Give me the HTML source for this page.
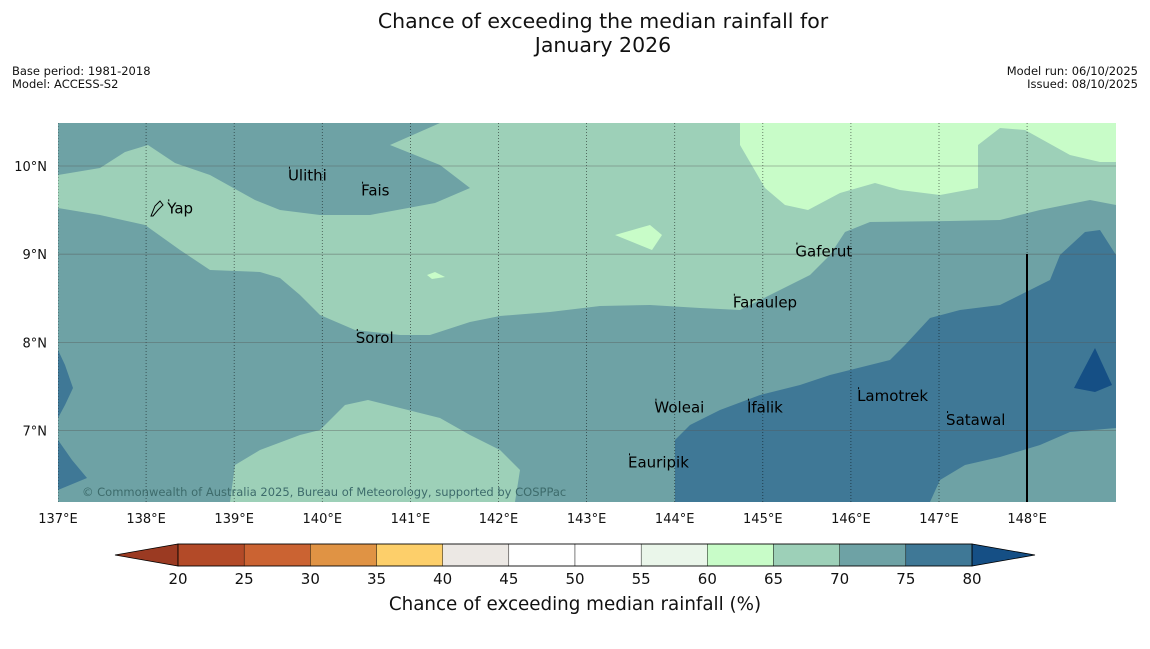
<!DOCTYPE html>
<html><head><meta charset="utf-8"><style>
body{margin:0;background:#fff;font-family:"Liberation Sans","DejaVu Sans",sans-serif;}
svg text{font-family:"DejaVu Sans","Liberation Sans",sans-serif;}
</style></head><body>
<svg width="1150" height="644" viewBox="0 0 1150 644" xmlns="http://www.w3.org/2000/svg">
<rect width="1150" height="644" fill="#fff"/>
<text x="603" y="28" text-anchor="middle" font-size="20.5" fill="#111">Chance of exceeding the median rainfall for</text>
<text x="603" y="52" text-anchor="middle" font-size="20.5" fill="#111">January 2026</text>
<text x="12" y="75" font-size="11.5" fill="#111">Base period: 1981-2018</text>
<text x="12" y="88" font-size="11.5" fill="#111">Model: ACCESS-S2</text>
<text x="1138" y="75" font-size="11.5" text-anchor="end" fill="#111">Model run: 06/10/2025</text>
<text x="1138" y="88" font-size="11.5" text-anchor="end" fill="#111">Issued: 08/10/2025</text>
<defs><clipPath id="mc"><rect x="58" y="123" width="1058" height="379"/></clipPath></defs>
<g clip-path="url(#mc)">
<rect x="58" y="123" width="1058" height="379" fill="#6ea2a5"/>
<polygon fill="#9dd0b8" points="58,175 100,168 125,152 148,145 175,163 210,175 255,200 280,210 320,215 370,215 435,203 470,188 440,165 390,145 440,123 1116,123 1116,205 1090,200 1040,210 1000,220 950,221 870,222 845,232 830,255 810,275 790,285 760,300 740,310 700,308 650,305 600,306 550,312 500,316 470,322 430,335 400,335 355,330 320,315 300,295 280,278 260,272 210,270 180,250 145,225 100,215 58,208"/>
<polygon fill="#c8fcc8" points="740,123 740,145 765,188 785,205 808,210 840,193 875,183 900,190 940,195 978,188 978,145 1000,128 1025,130 1070,155 1100,162 1116,162 1116,123"/>
<polygon fill="#c8fcc8" points="615,235 650,225 662,235 652,250"/>
<polygon fill="#c8fcc8" points="427,275 435,272 445,277 432,279"/>
<polygon fill="#9dd0b8" points="230,502 235,465 260,450 300,435 320,430 345,405 368,400 400,408 440,418 470,435 500,450 520,470 515,502"/>
<polygon fill="#3f7896" points="675,502 675,440 690,425 720,410 760,395 800,385 830,375 890,360 905,345 930,318 960,310 1000,305 1030,290 1050,280 1060,255 1085,232 1100,230 1116,255 1116,428 1070,432 1040,445 1000,457 965,465 940,480 930,502"/>
<polygon fill="#3f7896" points="58,350 65,365 73,388 65,405 58,418"/>
<polygon fill="#3f7896" points="58,440 72,460 87,478 58,490"/>
<polygon fill="#154f85" points="1074,388 1095,348 1112,385 1095,392"/>
<g id="grid"></g>
<path d="M151,216 L155,206 L160,201 L163,205 L158,210 L153,216 Z" fill="none" stroke="#000" stroke-width="1"/>
<line x1="1027" y1="254" x2="1027" y2="502" stroke="#000" stroke-width="2"/>
<text x="82" y="496" font-size="11.5" fill="#3d6b6b">© Commonwealth of Australia 2025, Bureau of Meteorology, supported by COSPPac</text>
</g>
<g id="places" font-size="15" fill="#000"></g>
<g id="axes" font-size="13" fill="#111"></g>
<g id="cbar"></g>
<text x="575" y="610" text-anchor="middle" font-size="18.3" fill="#111">Chance of exceeding median rainfall (%)</text>
</svg>
<script>
const lonTicks=[137,138,139,140,141,142,143,144,145,146,147,148];
const latTicks=[10,9,8,7];
const cbTicks=[20,25,30,35,40,45,50,55,60,65,70,75,80];
const cbColors=["#b34a28","#cb6332","#e09344","#fdcf6a","#ece8e4","#ffffff","#ffffff","#eaf6ea","#c8fcc8","#9dd0b8","#6ea2a5","#3f7896"];
const places=[["Ulithi",139.61,9.89],["Fais",140.44,9.72],["Yap",138.24,9.52],["Gaferut",145.37,9.03],["Faraulep",144.66,8.45],["Sorol",140.38,8.05],["Woleai",143.77,7.26],["Ifalik",144.82,7.26],["Lamotrek",146.07,7.39],["Satawal",147.08,7.12],["Eauripik",143.47,6.64]];
const NS="http://www.w3.org/2000/svg";
const X=l=>58+(l-137)*88.1, Y=a=>166+(10-a)*88.2;
function mk(t,p,at){const e=document.createElementNS(NS,t);for(const k in at)e.setAttribute(k,at[k]);p.appendChild(e);return e;}
const g=document.getElementById('grid'),ax=document.getElementById('axes');
lonTicks.forEach(l=>{
 const ln=mk('line',g,{x1:X(l),x2:X(l),y1:123,y2:502,stroke:'#000','stroke-opacity':0.6,'stroke-width':0.8,'stroke-dasharray':'1,2'});
 
 
 const t=mk('text',ax,{x:X(l),y:523,'text-anchor':'middle'});t.textContent=l+'°E';
 
 
});
latTicks.forEach(a=>{
 const ln=mk('line',g,{x1:58,x2:1116,y1:Y(a),y2:Y(a),stroke:'#555','stroke-opacity':0.5,'stroke-width':0.8});
 
 
 const t=mk('text',ax,{x:47,y:Y(a)+5,'text-anchor':'end'});t.textContent=a+'°N';
 
 
});
const pg=document.getElementById('places');
places.forEach(p=>{
 const t=mk('text',pg,{x:X(p[1]),y:Y(p[2])+5});t.textContent=p[0];
 
 
 const d=mk('rect',pg,{x:X(p[1])+1,y:Y(p[2])-9,width:1,height:2,fill:'#000'});
 
 
});
const cb=document.getElementById('cbar');
const CX=v=>178+(v-20)*(794/60);
const lo=mk('polygon',cb,{points:`115,555 178,544 178,566`,fill:'#9b3a22',stroke:'#000','stroke-width':0.8});


const hi=mk('polygon',cb,{points:`1035,555 972,544 972,566`,fill:'#154f85',stroke:'#000','stroke-width':0.8});


cbColors.forEach((c,i)=>{
 const r=mk('rect',cb,{x:CX(cbTicks[i]),y:544,width:CX(cbTicks[i+1])-CX(cbTicks[i]),height:22,fill:c,stroke:'#000','stroke-width':0.4});
 
 
});
mk('rect',cb,{x:178,y:544,width:794,height:22,fill:'none',stroke:'#000','stroke-width':0.8});
cbTicks.forEach(v=>{
 const t=mk('text',cb,{x:CX(v),y:584,'text-anchor':'middle','font-size':15,fill:'#111'});t.textContent=v;
 
 
});
</script>
</body></html>
